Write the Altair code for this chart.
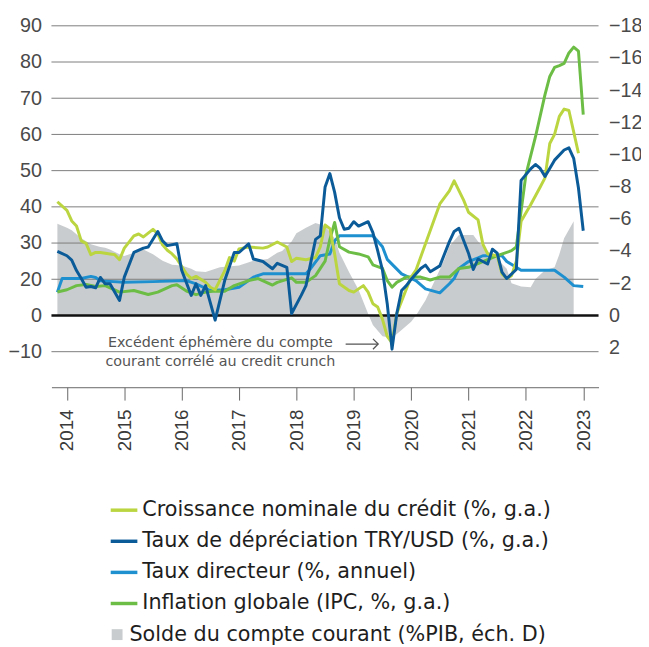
import altair as alt
import pandas as pd

# ---- series names ----
S_CREDIT = "Croissance nominale du crédit (%, g.a.)"
S_TRY = "Taux de dépréciation TRY/USD (%, g.a.)"
S_POLICY = "Taux directeur (%, annuel)"
S_CPI = "Inflation globale (IPC, %, g.a.)"
S_CA = "Solde du compte courant (%PIB, éch. D)"

# month index: 0 = start of 2014, 12 = start of 2015, ...
credit_m = [-2, 0, 1, 2, 3, 4, 5, 6, 7, 9, 10, 11, 12, 14, 15, 16, 18, 19, 20, 21, 22, 23, 25, 26, 27, 29, 30, 31,
            33, 34, 35, 36, 38, 41, 42, 44, 46, 47, 48, 50, 52, 53, 54, 55, 56, 57, 59, 60, 62, 63, 64, 65, 66, 67,
            68, 69, 71, 72, 73, 75, 77, 78, 80, 81, 83, 84, 86, 87, 88, 90, 91, 92, 93, 94, 95, 97, 99, 100, 101,
            102, 103, 104, 105, 106, 107]
credit_v = [41.4, 39.0, 36.1, 34.7, 30.6, 29.9, 26.8, 27.4, 27.4, 27.0, 26.8, 25.4, 28.6, 32.0, 32.5, 31.7, 33.8,
            32.5, 29.5, 28.0, 27.0, 25.6, 21.5, 20.2, 20.8, 18.3, 15.6, 14.2, 22.3, 26.0, 25.0, 28.4, 28.9, 28.6,
            28.9, 30.3, 28.9, 24.9, 25.8, 25.4, 26.0, 29.0, 35.0, 34.0, 27.0, 17.5, 13.8, 12.9, 16.5, 12.9, 6.5,
            4.7, -1.0, -5.8, -7.6, 1.1, 14.7, 20.6, 22.5, 29.8, 37.1, 40.8, 44.4, 47.2, 41.8, 38.5, 36.4, 29.7,
            27.0, 26.5, 21.5, 20.2, 21.0, 25.0, 36.0, 40.6, 45.5, 48.0, 57.5, 60.0, 65.0, 67.0, 66.6, 60.7, 54.8]

try_m = [-2, 0, 1, 2, 3, 4, 5, 6, 7, 8, 9, 11, 12, 14, 16, 17, 19, 20, 21, 23, 24, 26, 27, 28, 29, 31, 33, 35, 36,
         38, 39, 41, 43, 44, 46, 47, 49, 50, 51, 52, 53, 54, 55, 56, 57, 58, 59, 60, 61, 63, 64, 65, 66, 67, 68,
         69, 70, 71, 72, 74, 75, 76, 78, 80, 81, 82, 84, 85, 86, 88, 89, 90, 91, 92, 94, 95, 97, 98, 99, 100, 102,
         104, 105, 106, 107, 108]
try_v = [27.7, 26.5, 25.3, 22.4, 20.2, 15.6, 16.0, 15.3, 20.5, 17.5, 17.5, 8.3, 20.6, 27.4, 28.6, 28.9, 33.2, 30.6,
         29.3, 29.8, 22.5, 11.1, 17.5, 11.1, 16.5, -1.3, 19.3, 27.4, 27.4, 29.8, 25.6, 24.9, 22.9, 24.4, 23.3, 1.1,
         11.1, 16.5, 24.6, 31.0, 32.0, 45.5, 49.2, 44.0, 37.0, 33.8, 34.1, 35.9, 34.7, 35.9, 32.9, 27.9, 22.5, 6.5,
         -9.3, 1.1, 13.8, 16.5, 20.0, 23.0, 23.9, 22.1, 23.7, 30.4, 33.2, 34.1, 27.2, 22.7, 25.6, 24.2, 28.3, 27.2,
         22.0, 20.2, 22.7, 47.3, 50.5, 51.7, 50.6, 48.4, 52.9, 55.7, 56.3, 53.4, 45.2, 33.4]

policy_m = [-2, -1, 3, 5, 6, 7, 12, 18, 25, 27, 30, 33, 36, 39, 41, 50, 51, 53, 55, 56, 57, 64, 66, 67, 70, 73, 75,
            78, 80, 81, 82, 84, 86, 87, 91, 92, 94, 95, 102, 104, 106, 108]
policy_v = [12.9, 20.2, 20.2, 20.8, 20.5, 19.1, 18.3, 18.7, 19.3, 17.5, 13.8, 14.2, 15.6, 20.6, 21.5, 21.5, 23.0,
            26.5, 27.0, 30.6, 32.0, 32.0, 29.0, 25.5, 21.5, 19.3, 14.7, 12.5, 17.5, 20.2, 23.0, 24.9, 25.9, 26.5,
            26.5, 24.9, 23.3, 22.5, 22.5, 20.6, 16.5, 16.0]

cpi_m = [-2, 0, 2, 4, 6, 8, 11, 14, 17, 19, 22, 23, 25, 27, 29, 31, 33, 35, 38, 40, 43, 44, 47, 48, 50, 52, 54, 55,
         56, 57, 59, 61, 63, 64, 66, 67, 68, 69, 71, 74, 76, 78, 80, 82, 84, 87, 90, 93, 94, 96, 98, 100, 101, 102,
         103, 104, 105, 106, 107, 108]
cpi_v = [13.0, 14.2, 16.5, 17.1, 16.0, 16.5, 12.9, 13.8, 11.6, 12.9, 16.5, 17.0, 13.5, 11.5, 12.9, 13.5, 13.4, 16.5,
         19.3, 20.2, 16.8, 18.3, 20.4, 18.3, 18.3, 21.0, 25.0, 31.0, 35.7, 29.0, 27.5, 27.0, 26.2, 24.0, 23.0, 19.3,
         15.6, 18.3, 20.6, 20.6, 19.6, 20.6, 20.6, 23.0, 23.3, 24.9, 26.5, 27.9, 28.9, 48.8, 59.3, 71.0, 76.0, 78.5,
         79.0, 79.6, 82.5, 84.1, 83.0, 65.5]

ca_m = [-2, 0, 1, 3, 5, 7, 8, 9, 11, 12, 14, 16, 18, 20, 22, 24, 26, 27, 29, 32, 36, 39, 42, 44, 45, 47, 48, 50, 52,
        53, 54, 56, 57, 59, 61, 63, 64, 66, 68, 70, 72, 73, 75, 77, 79, 80, 82, 84, 85, 86, 88, 90, 92, 93, 95, 97,
        98, 100, 102, 103, 104, 106]
ca_v = [-5.7, -5.45, -5.3, -4.8, -4.42, -4.25, -4.2, -4.1, -3.8, -3.7, -3.9, -4.1, -3.8, -3.4, -3.15, -3.1, -2.9,
        -2.75, -2.7, -3.0, -3.1, -3.4, -3.5, -3.9, -4.0, -4.6, -5.1, -5.45, -5.75, -5.65, -5.55, -4.8, -3.9, -2.7,
        -1.6, -0.1, 0.6, 1.3, 1.4, 0.9, 0.4, 0.0, -0.95, -2.2, -3.5, -4.3, -5.0, -5.0, -5.0, -4.6, -4.0, -3.5, -2.9,
        -2.0, -1.8, -1.75, -2.27, -2.8, -3.0, -3.8, -4.8, -5.85]

# axis ticks / labels
year_ticks = [0, 12, 24, 36, 48, 60, 72, 84, 96, 108]
left_ticks = [-10, 0, 20, 30, 40, 50, 60, 70, 80, 90]
right_ticks = [-18, -16, -14, -12, -10, -8, -6, -4, -2, 0, 2]
grid_vals = [-10, 20, 30, 40, 50, 60, 70, 80, 90]

ann_m = [32.1, 32.1]
ann_v = [-7.6, -12.9]
ann_txt = ["Excédent éphémère du compte", "courant corrélé au credit crunch"]
arrow_m = [58.3, 65.1]
arrow_v = [-7.9, -7.9]

# ---- build tables ----
rows = []
for name, ms, vs in [(S_POLICY, policy_m, policy_v), (S_CPI, cpi_m, cpi_v),
                     (S_CREDIT, credit_m, credit_v), (S_TRY, try_m, try_v)]:
    for m, v in zip(ms, vs):
        rows.append({"series": name, "m": m, "v": v})
df_lines = pd.DataFrame(rows)
df_ca = pd.DataFrame({"m": ca_m, "ca": ca_v, "lab": S_CA})
df_grid = pd.DataFrame({"g": grid_vals})
df_zero = pd.DataFrame({"z": [0]})
df_ann = pd.DataFrame({"m": ann_m, "v": ann_v, "t": ann_txt})
df_arrow = pd.DataFrame({"m": arrow_m, "v": arrow_v})
df_head = df_arrow.tail(1)

W, H = 554, 366
AX_FONT = "Liberation Sans"
TXT_FONT = "DejaVu Sans"

xscale = alt.Scale(domain=[-3.24, 111.2], nice=False, zero=False)
xaxis = alt.Axis(values=year_ticks, labelExpr="'' + (2014 + datum.value / 12)", labelAngle=270,
                 tickSize=13, tickColor="#666666", domainColor="#666666", grid=False, title=None,
                 labelFont=AX_FONT, labelFontSize=19, labelColor="#3a3a3a", labelPadding=9,
                 labelFlush=False, orient="bottom")
yL_scale = alt.Scale(domain=[-10, 0, 20, 90], range=[330, 293.33, 256.67, 0], nice=False, zero=False)
yL_axis = alt.Axis(values=left_ticks, orient="left", ticks=False, domain=False, grid=False, title=None,
                   labelFont=AX_FONT, labelFontSize=20, labelColor="#4a4a4a", labelPadding=10,
                   labelFlush=False, labelOverlap=False)
yR_scale = alt.Scale(domain=[-18, 2], range=[0, 325.87], nice=False, zero=False)
yR_axis = alt.Axis(values=right_ticks, orient="right", ticks=False, domain=False, grid=False, title=None,
                   labelFont=AX_FONT, labelFontSize=20, labelColor="#4a4a4a", labelPadding=10,
                   labelFlush=False, labelOverlap=False)

X = alt.X("m:Q", scale=xscale, axis=xaxis)
X_noaxis = alt.X("m:Q", scale=xscale, axis=None)

area = alt.Chart(df_ca).mark_area(strokeWidth=0).encode(
    x=X,
    y=alt.Y("ca:Q", scale=yR_scale, axis=yR_axis),
    y2=alt.datum(0),
    fill=alt.Fill("lab:N", scale=alt.Scale(domain=[S_CA], range=["#c9ccce"]),
                  legend=alt.Legend(orient="none", legendX=56, legendY=606, title=None,
                                    symbolType="square", symbolSize=121, symbolStrokeWidth=0,
                                    labelFont=TXT_FONT, labelFontSize=21, labelColor="#1e1e1e",
                                    labelOffset=2, padding=0, labelLimit=0)),
)

grid = alt.Chart(df_grid).mark_rule(color="#7d7d7d", strokeWidth=1).encode(
    y=alt.Y("g:Q", scale=yL_scale, axis=yL_axis)
)
zero = alt.Chart(df_zero).mark_rule(color="#111111", strokeWidth=2.5).encode(
    y=alt.Y("z:Q", scale=yL_scale, axis=None)
)
lines = alt.Chart(df_lines).mark_line(strokeWidth=3, strokeJoin="round").encode(
    x=X_noaxis,
    y=alt.Y("v:Q", scale=yL_scale, axis=None),
    color=alt.Color("series:N",
                    scale=alt.Scale(domain=[S_CREDIT, S_TRY, S_POLICY, S_CPI],
                                    range=["#bad540", "#0b5b99", "#1e90d0", "#6cbd45"]),
                    legend=alt.Legend(orient="none", legendX=58, legendY=475, title=None,
                                      symbolType="stroke", symbolSize=729, symbolStrokeWidth=3.5,
                                      labelFont=TXT_FONT, labelFontSize=21, labelColor="#1e1e1e",
                                      labelOffset=3, rowPadding=5.5, padding=0, labelLimit=0)),
)
ann = alt.Chart(df_ann).mark_text(font=TXT_FONT, fontSize=14.5, color="#555555", align="center",
                                  baseline="middle").encode(
    x=X_noaxis, y=alt.Y("v:Q", scale=yL_scale, axis=None), text="t:N"
)
arrow = alt.Chart(df_arrow).mark_line(color="#555555", strokeWidth=1.3).encode(
    x=X_noaxis, y=alt.Y("v:Q", scale=yL_scale, axis=None)
)
head = alt.Chart(df_head).mark_point(shape="M-1,-1L0,0L-1,1", size=110, filled=False,
                                     color="#555555", strokeWidth=1.3, opacity=1).encode(
    x=X_noaxis, y=alt.Y("v:Q", scale=yL_scale, axis=None)
)

chart = alt.layer(area, grid, zero, lines, ann, arrow, head).resolve_scale(
    y="independent"
).resolve_axis(x="independent").properties(
    width=W, height=H,
    autosize=alt.AutoSizeParams(type="none"),
    padding={"left": 44, "top": 14, "right": 43, "bottom": 257},
    background="white",
).configure_view(strokeWidth=0)

chart.save("out.html", embed_options={"renderer": "svg", "actions": False})
